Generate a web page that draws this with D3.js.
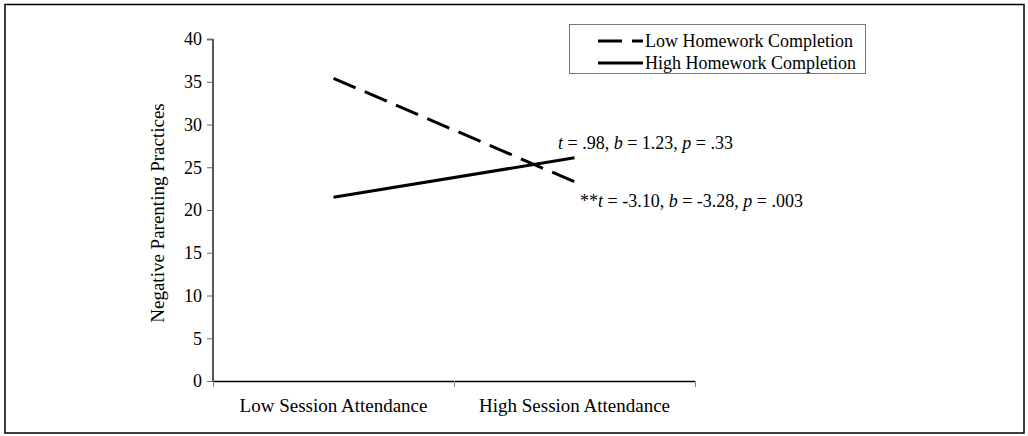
<!DOCTYPE html>
<html><head><meta charset="utf-8">
<script src="https://cdn.jsdelivr.net/npm/d3@7"></script>
<style>body{margin:0;background:#fff}svg{display:block}</style>
</head><body><svg id="c" width="1028" height="436"></svg>
<script>
const categories = ["Low Session Attendance", "High Session Attendance"];
const seriesNames = ["Low Homework Completion", "High Homework Completion"];
const lowHomework = [35.4, 23.3];
const highHomework = [21.5, 26.1];
const yTicks = [0, 5, 10, 15, 20, 25, 30, 35, 40];
const annotations = [
  {series: 1, parts: [["t","i"],[" = .98, ",""],["b","i"],[" = 1.23, ",""],["p","i"],[" = .33",""]]},
  {series: 0, parts: [["**",""],["t","i"],[" = -3.10, ",""],["b","i"],[" = -3.28, ",""],["p","i"],[" = .003",""]]}
];

const svg = d3.select("#c");
const font = "'Liberation Serif','Times New Roman',serif";
svg.append("rect").attr("x",5).attr("y",4.5).attr("width",1019).attr("height",428.5)
  .attr("fill","none").attr("stroke","#000").attr("stroke-width",1.5);

const x = d3.scaleBand().domain(categories).range([213, 695]);
const y = d3.scaleLinear().domain([0, 40]).range([381, 39]);

const yAxis = svg.append("g").attr("transform","translate(213,0)")
  .call(d3.axisLeft(y).tickValues(yTicks).tickSize(6).tickPadding(5));
yAxis.attr("font-family",font).attr("font-size",18);
yAxis.select(".domain").attr("stroke","#000").attr("stroke-width",1.3).attr("d","M-6,39.5H0V381.5");
yAxis.selectAll("line").attr("stroke","#666");
yAxis.selectAll("text").attr("fill","#000");

const xAxis = svg.append("g").attr("transform","translate(0,381)")
  .call(d3.axisBottom(x).tickSize(0).tickPadding(18));
xAxis.attr("font-family",font).attr("font-size",19);
xAxis.select(".domain").attr("stroke","#000").attr("stroke-width",1.3).attr("d","M213,0.5H695");
xAxis.selectAll("text").attr("fill","#000");
[213, 454, 695].forEach(px => svg.append("line").attr("x1",px+0.5).attr("x2",px+0.5)
  .attr("y1",381).attr("y2",387).attr("stroke","#888").attr("stroke-width",1));

svg.append("text").attr("transform","translate(164,213) rotate(-90)")
  .attr("text-anchor","middle").attr("font-family",font).attr("font-size",19)
  .text("Negative Parenting Practices");

const series = [lowHomework, highHomework];
const dashes = ["24,10", null];
const line = d3.line().x((d,i)=>x(categories[i]) + x.bandwidth()/2).y(d=>y(d));
series.forEach((s,k)=>{
  const p = svg.append("path").datum(s).attr("d",line).attr("fill","none")
    .attr("stroke","#000").attr("stroke-width",3);
  if (dashes[k]) p.attr("stroke-dasharray",dashes[k]);
});

const annPos = [[558,149],[580,207]];
annotations.forEach((a,i)=>{
  const t = svg.append("text").attr("x",annPos[i][0]).attr("y",annPos[i][1])
    .attr("font-family",font).attr("font-size",18);
  a.parts.forEach(p=>{
    const ts = t.append("tspan").text(p[0]);
    if (p[1]==="i") ts.attr("font-style","italic");
  });
});

svg.append("rect").attr("x",569.5).attr("y",24.5).attr("width",296).attr("height",49)
  .attr("fill","none").attr("stroke","#777").attr("stroke-width",1);
seriesNames.forEach((n,i)=>{
  const ly = 41 + i*22;
  const l = svg.append("line").attr("x1",598).attr("x2",643).attr("y1",ly).attr("y2",ly)
    .attr("stroke","#000").attr("stroke-width",3);
  if (dashes[i]) l.attr("stroke-dasharray","24,10");
  svg.append("text").attr("x",645).attr("y",ly+6).attr("font-family",font).attr("font-size",18).text(n);
});
</script></body></html>
